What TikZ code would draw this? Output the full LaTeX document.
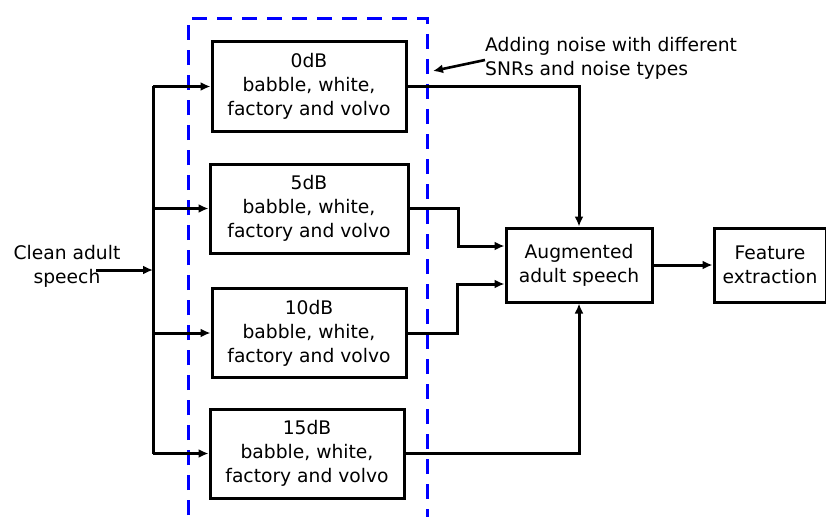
\documentclass[tikz,border=0pt]{standalone}
\usepackage{fontspec}
\setmainfont{DejaVu Sans}
\usetikzlibrary{arrows.meta}

\tikzset{
	snrbox/.style={draw, line width=3pt, align=center, inner sep=0pt,
		minimum width=194pt, minimum height=89pt},
	procbox/.style={draw, line width=3pt, align=center, inner sep=0pt,
		minimum height=74pt},
	arr/.style={line width=3pt, -{Latex[length=10pt,width=9pt]}},
	wire/.style={line width=3pt},
}

\begin{document}
\begin{tikzpicture}[x=1pt, y=-1pt, font=\fontsize{18.7}{24}\selectfont]
	\useasboundingbox (0,0) rectangle (826,516);

	% noise adding region
	\draw[blue, line width=3pt, dash pattern=on 15pt off 10pt]
		(188,540) -- (188,19) -- (427,19) -- (427,540);

	\node[snrbox] (n0) at (309,86.5) {0dB\\ babble, white,\\ factory and volvo};
	\node[snrbox, minimum width=198pt] (n5) at (309,208.5) {5dB\\ babble, white,\\ factory and volvo};
	\node[snrbox] (n10) at (309,333) {10dB\\ babble, white,\\ factory and volvo};
	\node[snrbox] (n15) at (307,453.5) {15dB\\ babble, white,\\ factory and volvo};

	\node[procbox, minimum width=146pt] (aug) at (579,265) {Augmented\\ adult speech};
	\node[procbox, minimum width=112pt] (feat) at (770,265) {Feature\\ extraction};

	\node[align=center, inner sep=0pt] (clean) at (67,266) {Clean adult\\ speech};
	\node[align=left, anchor=west, inner sep=0pt] (note) at (485,58)
		{Adding noise with different\\ SNRs and noise types};

	\coordinate (bustop) at (153,86.5);
	\coordinate (busbot) at (153,453.5);
	\coordinate (cin) at (96,270);
	\coordinate (tip) at (433,71);

	\draw[wire] (bustop) -- (busbot);
	\draw[arr] (cin) -- (cin -| bustop);
	\draw[arr] (bustop) -- (n0.west);
	\draw[arr] (n5.west -| bustop) -- (n5.west);
	\draw[arr] (n10.west -| bustop) -- (n10.west);
	\draw[arr] (busbot) -- (n15.west);

	\draw[arr] (n0.east) -| (aug.north);
	\draw[arr] (n5.east) -- ++(49,0) |- ([yshift=19pt]aug.west);
	\draw[arr] (n10.east) -- ++(50,0) |- ([yshift=-19pt]aug.west);
	\draw[arr] (n15.east) -| (aug.south);
	\draw[arr] (aug) -- (feat);

	\draw[arr, line width=2.6pt] ([yshift=-2pt]note.west) -- (tip);
\end{tikzpicture}
\end{document}
